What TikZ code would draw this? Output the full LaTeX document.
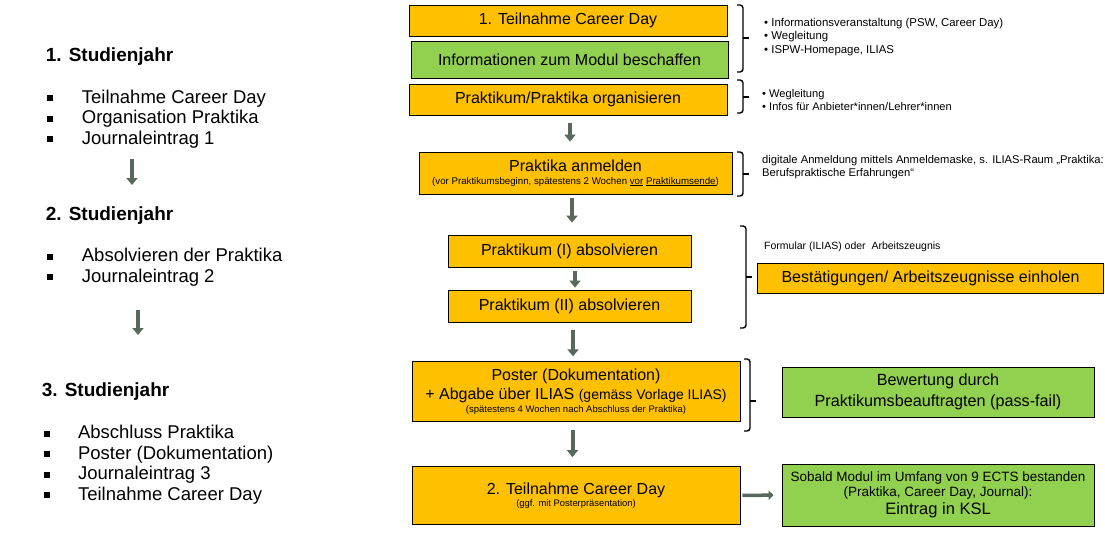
\documentclass[tikz,border=0pt]{standalone}
\usepackage{fontspec}
\setmainfont{Liberation Sans}
\usetikzlibrary{arrows.meta}
\definecolor{orangebox}{HTML}{FFC000}
\definecolor{greenbox}{HTML}{92D050}
\definecolor{arrowcol}{RGB}{88,104,92}
\newcommand{\fsz}[2]{\fontsize{#1}{#2}\selectfont}
\newcommand{\sq}{\raisebox{2pt}{\rule{6pt}{6pt}}}
\newcommand{\RBrace}[4]{%
  \draw[brc,rounded corners=3pt] (#1,#2) -- (#1+6,#2) -- (#1+6,#4) -- (#1,#4);
  \draw[brc] (#1+6,#3) -- (#1+12,#3);}
\begin{document}
\begin{tikzpicture}[x=1pt,y=-1pt,
  obox/.style={draw=black, line width=0.8pt, fill=orangebox, inner sep=0pt, align=center},
  gbox/.style={draw=black, line width=0.8pt, fill=greenbox, inner sep=0pt, align=center},
  arr/.style={draw=arrowcol, line width=4pt, -{Triangle[width=11pt,length=7pt]}},
  brc/.style={draw=black, line width=1.4pt},
  side/.style={anchor=base west, align=left, inner sep=0pt},
  head/.style={anchor=base west, inner sep=0pt, font=\bfseries\fsz{19}{22}},
  list/.style={anchor=base west, align=left, inner sep=0pt, font=\fsz{18.5}{20.5}}
]
\useasboundingbox[fill=white] (0,0) rectangle (1105,539);

% ---------- left column ----------
\node[head] (h1) at (45.7,61.7) {1. Studienjahr};
\node[list] (l1) at (46.7,144)
  {\sq\hspace{29pt}Teilnahme Career Day\\
   \sq\hspace{29pt}Organisation Praktika\\
   \sq\hspace{29pt}Journaleintrag 1};
\coordinate (la1s) at (132,159);
\coordinate (la1e) at (132,185);
\draw[arr] (la1s) -- (la1e);

\node[head] (h2) at (45.7,220.7) {2. Studienjahr};
\node[list] (l2) at (46.7,282)
  {\sq\hspace{29pt}Absolvieren der Praktika\\
   \sq\hspace{29pt}Journaleintrag 2};
\coordinate (la2s) at (138,310);
\coordinate (la2e) at (138,335);
\draw[arr] (la2s) -- (la2e);

\node[head] (h3) at (41.7,396.7) {3. Studienjahr};
\node[list] (l3) at (43.3,500)
  {\sq\hspace{28.5pt}Abschluss Praktika\\
   \sq\hspace{28.5pt}Poster (Dokumentation)\\
   \sq\hspace{28.5pt}Journaleintrag 3\\
   \sq\hspace{28.5pt}Teilnahme Career Day};

% ---------- right column boxes ----------
\node[obox, minimum width=318, minimum height=31, font=\fsz{16}{19}] (b1) at (568,20.5) {1. Teilnahme Career Day};
\node[gbox, minimum width=317, minimum height=37, font=\fsz{16}{19}] (b2) at (569.5,59.5) {Informationen zum Modul beschaffen};
\node[obox, minimum width=318, minimum height=31, font=\fsz{16}{19}] (b3) at (568,99.5) {Praktikum/Praktika organisieren};
\node[obox, minimum width=313, minimum height=42, font=\fsz{16}{19}] (b4) at (575.5,173)
  {Praktika anmelden\\[-6.5pt] \fsz{9.7}{12.5}(vor Praktikumsbeginn, spätestens 2 Wochen \underline{vor} \underline{Praktikumsende})};
\node[obox, minimum width=243, minimum height=32, font=\fsz{16}{19}] (b5) at (569.5,251) {Praktikum (I) absolvieren};
\node[obox, minimum width=243, minimum height=32, font=\fsz{16}{19}] (b6) at (569.5,306) {Praktikum (II) absolvieren};
\node[obox, minimum width=346, minimum height=30, font=\fsz{16}{19}] (b7) at (930.5,278) {Bestätigungen/ Arbeitszeugnisse einholen};
\node[obox, minimum width=328, minimum height=60, font=\fsz{16}{19}] (b8) at (576,391.7)
  {Poster (Dokumentation)\\[0pt] + Abgabe über ILIAS {\fsz{14}{18}(gemäss Vorlage ILIAS)}\\[-6.5pt] \fsz{9.5}{12.5}(spätestens 4 Wochen nach Abschluss der Praktika)};
\node[gbox, minimum width=312, minimum height=50, font=\fsz{16.2}{21}] (b9) at (938,392)
  {Bewertung durch\\ Praktikumsbeauftragten (pass-fail)};
\node[obox, minimum width=328, minimum height=58, font=\fsz{16}{19}] (b10) at (576,495.5)
  {2. Teilnahme Career Day\\[-6.5pt] \fsz{9.4}{12.5}(ggf. mit Posterpräsentation)};
\node[gbox, minimum width=312, minimum height=62, font=\fsz{13.5}{14.5}] (b11) at (938,495)
  {Sobald Modul im Umfang von 9 ECTS bestanden\\ (Praktika, Career Day, Journal):\\[3pt] \fsz{16.5}{20}Eintrag in KSL};

% ---------- arrows ----------
\draw[arr, shorten <=8pt, shorten >=10pt] ([xshift=2pt]b3.south) -- ([xshift=2pt]b3.south |- b4.north);
\draw[arr, shorten <=4pt, shorten >=12pt] ([xshift=-3.5pt]b4.south) -- ([xshift=-3.5pt]b4.south |- b5.north);
\draw[arr, shorten <=4pt, shorten >=2pt] ([xshift=5.5pt]b5.south) -- ([xshift=5.5pt]b5.south |- b6.north);
\draw[arr, shorten <=8pt, shorten >=5pt] ([xshift=3.5pt]b6.south) -- ([xshift=3.5pt]b6.south |- b8.north);
\draw[arr, shorten <=8pt, shorten >=9pt] ([xshift=-3.5pt]b8.south) -- ([xshift=-3.5pt]b8.south |- b10.north);
\draw[arr, line width=3.5pt, -{Triangle[width=9pt,length=5pt]}, shorten <=2pt, shorten >=8pt] (b10.east) -- (b11.west);

% ---------- braces ----------
\RBrace{737}{5}{38}{72}
\RBrace{737}{80}{97}{113}
\RBrace{737}{152}{174}{196}
\RBrace{740}{226}{277}{328}
\RBrace{744}{359}{401}{431}

% ---------- side texts ----------
\node[side, font=\fsz{11.4}{13.5}] (t1) at (764,53)
  {• Informationsveranstaltung (PSW, Career Day)\\ • Wegleitung\\ • ISPW-Homepage, ILIAS};
\node[side, font=\fsz{11.1}{13.4}] (t2) at (762,110.7)
  {• Wegleitung\\ • Infos für Anbieter*innen/Lehrer*innen};
\node[side, font=\fsz{11.2}{12.7}] (t3) at (762,176)
  {digitale Anmeldung mittels Anmeldemaske, s. ILIAS-Raum „Praktika:\\ Berufspraktische Erfahrungen“};
\node[side, font=\fsz{10.5}{12}] (t4) at (764,249) {Formular (ILIAS) oder\ \ Arbeitszeugnis};
\end{tikzpicture}
\end{document}
